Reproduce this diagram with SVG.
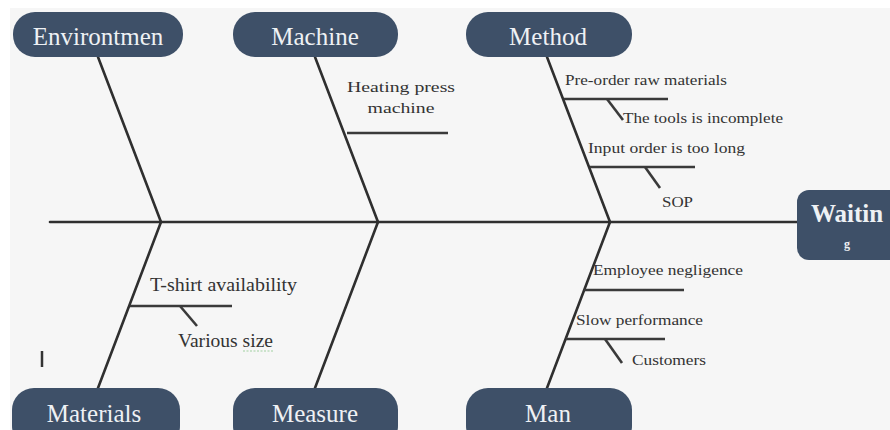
<svg xmlns="http://www.w3.org/2000/svg" width="890" height="430" viewBox="0 0 890 430">
<style>
.node{fill:#3e5068;}
.nt{font-family:"Liberation Serif","Times New Roman",serif;font-size:25px;fill:#eef1f4;text-anchor:middle;}
.bone{stroke:#2f2f2f;stroke-width:2.6;fill:none;stroke-linecap:round;}
.sub{stroke:#3a3a3a;stroke-width:2.6;fill:none;}
.lb{font-family:"Liberation Serif","Times New Roman",serif;font-size:15px;fill:#333;}
.lb2{font-family:"Liberation Serif","Times New Roman",serif;font-size:18px;fill:#333;}
</style>
<rect x="0" y="0" width="890" height="430" fill="#ffffff"/>
<rect x="10" y="8" width="880" height="422" fill="#f6f6f6"/>
<g id="connectors">
<line class="bone" x1="50" y1="222" x2="797" y2="222"/>
<line class="bone" x1="98" y1="57" x2="161" y2="222"/>
<line class="bone" x1="161" y1="222" x2="98" y2="388"/>
<line class="bone" x1="315" y1="57" x2="378" y2="222"/>
<line class="bone" x1="378" y1="222" x2="315" y2="388"/>
<line class="bone" x1="547" y1="57" x2="610" y2="222"/>
<line class="bone" x1="610" y1="222" x2="547" y2="388"/>
<line class="sub" x1="347" y1="133" x2="448" y2="133"/>
<line class="sub" x1="564" y1="99" x2="668" y2="99"/>
<line class="sub" x1="607" y1="99" x2="623" y2="120"/>
<line class="sub" x1="590" y1="167" x2="695" y2="167"/>
<line class="sub" x1="645" y1="167" x2="660" y2="188"/>
<line class="sub" x1="584" y1="290" x2="684" y2="290"/>
<line class="sub" x1="566" y1="339" x2="665" y2="339"/>
<line class="sub" x1="605" y1="339" x2="622" y2="363"/>
<line class="sub" x1="130" y1="306" x2="232" y2="306"/>
<line class="sub" x1="180" y1="306" x2="197" y2="326"/>
</g>
<g id="node-environtmen"><rect class="node" x="13" y="12" width="170" height="45" rx="22"/><text class="nt" x="98" y="45">Environtmen</text></g>
<g id="node-machine"><rect class="node" x="233" y="12" width="165" height="45" rx="22"/><text class="nt" x="315" y="45">Machine</text></g>
<g id="node-method"><rect class="node" x="466" y="12" width="166" height="45" rx="22"/><text class="nt" x="548" y="45">Method</text></g>
<g id="node-materials"><rect class="node" x="12" y="388" width="168" height="60" rx="22"/><text class="nt" x="94" y="422">Materials</text></g>
<g id="node-measure"><rect class="node" x="233" y="388" width="165" height="60" rx="22"/><text class="nt" x="315" y="422">Measure</text></g>
<g id="node-man"><rect class="node" x="466" y="388" width="166" height="60" rx="22"/><text class="nt" x="548" y="422">Man</text></g>
<g id="node-waiting"><rect class="node" x="797" y="190" width="110" height="70" rx="12"/><text class="nt" x="847" y="222" style="font-weight:bold">Waitin</text><text class="nt" x="847" y="248" style="font-weight:bold;font-size:12px">g</text></g>
<g id="labels">
<text class="lb" x="401" y="92" text-anchor="middle" textLength="108" lengthAdjust="spacingAndGlyphs">Heating press</text>
<text class="lb" x="401" y="113" text-anchor="middle" textLength="67" lengthAdjust="spacingAndGlyphs">machine</text>
<text class="lb" x="565" y="85" textLength="162" lengthAdjust="spacingAndGlyphs">Pre-order raw materials</text>
<text class="lb" x="623" y="123" textLength="160" lengthAdjust="spacingAndGlyphs">The tools is incomplete</text>
<text class="lb" x="588" y="153" textLength="157" lengthAdjust="spacingAndGlyphs">Input order is too long</text>
<text class="lb" x="662" y="207" textLength="31" lengthAdjust="spacingAndGlyphs">SOP</text>
<text class="lb" x="593" y="275" textLength="150" lengthAdjust="spacingAndGlyphs">Employee negligence</text>
<text class="lb" x="576" y="325" textLength="127" lengthAdjust="spacingAndGlyphs">Slow performance</text>
<text class="lb" x="632" y="365" textLength="74" lengthAdjust="spacingAndGlyphs">Customers</text>
<text class="lb2" x="150" y="291" textLength="147" lengthAdjust="spacingAndGlyphs">T-shirt availability</text>
<text class="lb2" x="178" y="347" textLength="95" lengthAdjust="spacingAndGlyphs">Various size</text>
<line x1="243" y1="351" x2="273" y2="351" stroke="#9fcf9f" stroke-width="1.2" stroke-dasharray="2 1.5"/>
<line x1="42" y1="351" x2="42" y2="367" stroke="#333" stroke-width="2.5"/>
</g>
</svg>
